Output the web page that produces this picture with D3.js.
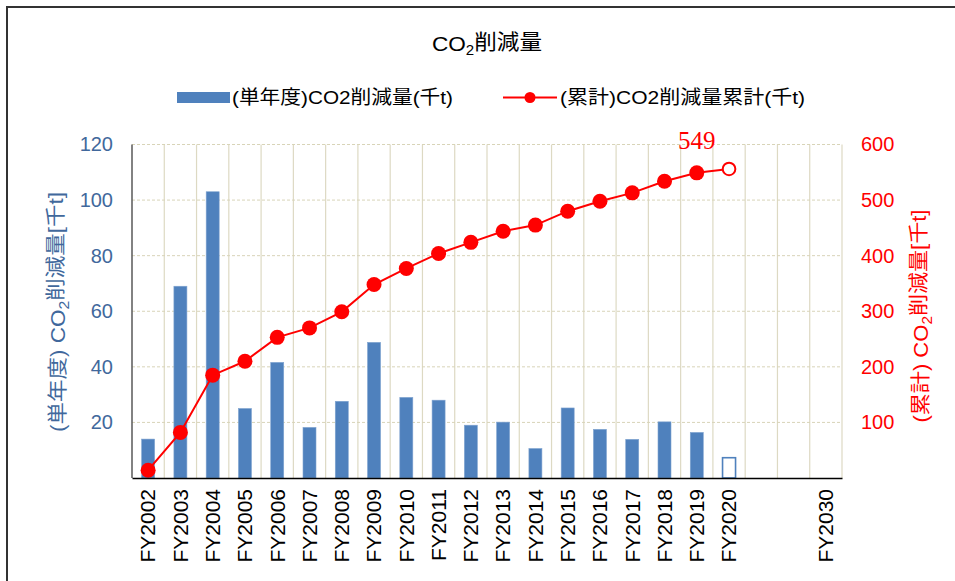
<!DOCTYPE html>
<html>
<head>
<meta charset="utf-8">
<script src="https://cdn.jsdelivr.net/npm/d3@7"></script>
<style>
  body { margin: 0; background: #fff; }
  svg text { font-family: Arial, "Liberation Sans", "Noto Sans CJK JP", sans-serif; }
</style>
</head>
<body>
<svg id="chart" width="955" height="581"></svg>
<script>
// x axis labels (blank slots between FY2020 and FY2030)
var xLabels = ['FY2002', 'FY2003', 'FY2004', 'FY2005', 'FY2006', 'FY2007', 'FY2008',
               'FY2009', 'FY2010', 'FY2011', 'FY2012', 'FY2013', 'FY2014', 'FY2015',
               'FY2016', 'FY2017', 'FY2018', 'FY2019', 'FY2020', '', '', 'FY2030'];

// single-year reduction (thousand t), FY2002..FY2020
var yearly = [14, 69, 103, 25, 41.6, 18.2, 27.6, 48.8, 29, 28, 19, 20.1, 10.6, 25.2,
              17.5, 13.9, 20.2, 16.4, 7.3];

// cumulative reduction (thousand t), FY2002..FY2020
var cumulative = [14, 82, 185, 210, 253, 270, 299, 348, 377, 404, 424, 444, 455, 480,
                  498, 513, 534, 549, 556];

var leftTicks = [20, 40, 60, 80, 100, 120];
var rightTicks = [100, 200, 300, 400, 500, 600];

var labelIndex = 17;     // data point that gets the "549" label
var estimateIndex = 18;  // FY2020 drawn hollow

var blue = '#4f81bd', red = '#ff0000', axisBlue = '#41689c', grid = '#ddd9c3';

var plotL = 132, plotR = 842, plotT = 144.5, plotB = 478;

var svg = d3.select('#chart');

// outer frame (runs off the right and bottom edges)
svg.append('path')
    .attr('d', 'M7,590 V7 H960')
    .attr('fill', 'none').attr('stroke', '#333').attr('stroke-width', 2);

var x = d3.scaleBand()
    .domain(d3.range(xLabels.length))
    .range([plotL, plotR]);

var yL = d3.scaleLinear().domain([0, 120]).range([plotB, plotT]);
var yR = d3.scaleLinear().domain([0, 600]).range([plotB, plotT]);

// vertical grid at category boundaries
svg.append('g').selectAll('line')
    .data(d3.range(1, xLabels.length + 1))
    .enter().append('line')
    .attr('x1', function(i) { return plotL + i * x.step(); })
    .attr('x2', function(i) { return plotL + i * x.step(); })
    .attr('y1', plotT).attr('y2', plotB)
    .attr('stroke', grid).attr('stroke-width', 1.2);

// horizontal dashed grid
svg.append('g').selectAll('line')
    .data(leftTicks)
    .enter().append('line')
    .attr('x1', plotL).attr('x2', plotR)
    .attr('y1', function(d) { return yL(d); })
    .attr('y2', function(d) { return yL(d); })
    .attr('stroke', '#d8d4b8').attr('stroke-width', 1)
    .attr('stroke-dasharray', '3,2');

// bars
var barW = 13;
svg.append('g').selectAll('rect')
    .data(yearly)
    .enter().append('rect')
    .attr('x', function(d, i) { return x(i) + x.bandwidth() / 2 - barW / 2; })
    .attr('y', function(d) { return yL(d); })
    .attr('width', barW)
    .attr('height', function(d) { return plotB - yL(d); })
    .attr('fill', function(d, i) { return i === estimateIndex ? '#fff' : blue; })
    .attr('stroke', function(d, i) { return i === estimateIndex ? blue : '#7fa3d0'; })
    .attr('stroke-width', function(d, i) { return i === estimateIndex ? 1.6 : 0.6; });

// cumulative line
var line = d3.line()
    .x(function(d, i) { return x(i) + x.bandwidth() / 2; })
    .y(function(d) { return yR(d); });

svg.append('path')
    .datum(cumulative)
    .attr('d', line)
    .attr('fill', 'none').attr('stroke', red).attr('stroke-width', 2);

svg.append('g').selectAll('circle')
    .data(cumulative)
    .enter().append('circle')
    .attr('cx', function(d, i) { return x(i) + x.bandwidth() / 2; })
    .attr('cy', function(d) { return yR(d); })
    .attr('r', function(d, i) { return i === estimateIndex ? 6.3 : 7.5; })
    .attr('fill', function(d, i) { return i === estimateIndex ? '#fff' : red; })
    .attr('stroke', red)
    .attr('stroke-width', function(d, i) { return i === estimateIndex ? 2 : 0; });

// value label (serif, as in the source)
svg.append('text')
    .attr('x', x(labelIndex) + x.bandwidth() / 2)
    .attr('y', 149)
    .attr('text-anchor', 'middle')
    .attr('style', 'font-family: "Liberation Serif", "DejaVu Serif", serif !important; font-size: 25px;')
    .attr('fill', red)
    .text(cumulative[labelIndex]);

// axes lines
svg.append('line')
    .attr('x1', plotL).attr('x2', plotL).attr('y1', plotT).attr('y2', plotB)
    .attr('stroke', '#595959').attr('stroke-width', 1.5);

var xAxis = svg.append('g')
    .attr('transform', 'translate(0,' + plotB + ')')
    .call(d3.axisBottom(x).tickSize(0).tickFormat(function(i) { return xLabels[i]; }));
xAxis.select('.domain').attr('stroke', '#000').attr('stroke-width', 1.5);
xAxis.selectAll('text')
    .attr('transform', 'rotate(-90)')
    .attr('x', -11).attr('y', 0).attr('dy', '0.35em')
    .attr('text-anchor', 'end')
    .style('font-size', '21px')
    .attr('fill', '#000');

var lAxis = svg.append('g')
    .attr('transform', 'translate(' + plotL + ',0)')
    .call(d3.axisLeft(yL).tickValues(leftTicks).tickSize(0).tickPadding(19));
lAxis.select('.domain').remove();
lAxis.selectAll('text').style('font-size', '20px').attr('fill', axisBlue);

var rAxis = svg.append('g')
    .attr('transform', 'translate(' + plotR + ',0)')
    .call(d3.axisRight(yR).tickValues(rightTicks).tickSize(0).tickPadding(19));
rAxis.select('.domain').remove();
rAxis.selectAll('text').style('font-size', '20px').attr('fill', red);

// axis titles
function axisTitle(cx, cy, prefix, color, len) {
    var t = svg.append('text')
        .attr('transform', 'translate(' + cx + ',' + cy + ') rotate(-90)')
        .attr('text-anchor', 'middle')
        .attr('dy', '0.35em')
        .attr('textLength', len)
        .attr('lengthAdjust', 'spacingAndGlyphs')
        .style('font-size', '20px')
        .attr('fill', color);
    t.append('tspan').text(prefix + ' CO');
    t.append('tspan').attr('dy', '0.3em').style('font-size', '14px').text('2');
    t.append('tspan').attr('dy', '-0.3em').text('削減量[千t]');
}
axisTitle(58, 312, '(単年度)', axisBlue, 240);
axisTitle(921, 316, '(累計)', red, 213);

// title
var title = svg.append('text')
    .attr('x', 487).attr('y', 51)
    .attr('text-anchor', 'middle')
    .attr('textLength', 110)
    .attr('lengthAdjust', 'spacingAndGlyphs')
    .style('font-size', '21px')
    .attr('fill', '#000');
title.append('tspan').text('CO');
title.append('tspan').attr('dy', '0.3em').style('font-size', '14px').text('2');
title.append('tspan').attr('dy', '-0.3em').text('削減量');

// legend
var leg = svg.append('g');
leg.append('rect')
    .attr('x', 177).attr('y', 92).attr('width', 53).attr('height', 11)
    .attr('fill', blue);
leg.append('text')
    .attr('x', 232).attr('y', 97.5).attr('dy', '0.35em')
    .attr('textLength', 221)
    .attr('lengthAdjust', 'spacingAndGlyphs')
    .style('font-size', '19px')
    .text('(単年度)CO2削減量(千t)');
leg.append('line')
    .attr('x1', 503).attr('x2', 557).attr('y1', 97.5).attr('y2', 97.5)
    .attr('stroke', red).attr('stroke-width', 2);
leg.append('circle')
    .attr('cx', 530).attr('cy', 97.5).attr('r', 5.5).attr('fill', red);
leg.append('text')
    .attr('x', 560).attr('y', 97.5).attr('dy', '0.35em')
    .attr('textLength', 245)
    .attr('lengthAdjust', 'spacingAndGlyphs')
    .style('font-size', '19px')
    .text('(累計)CO2削減量累計(千t)');
</script>
</body>
</html>
